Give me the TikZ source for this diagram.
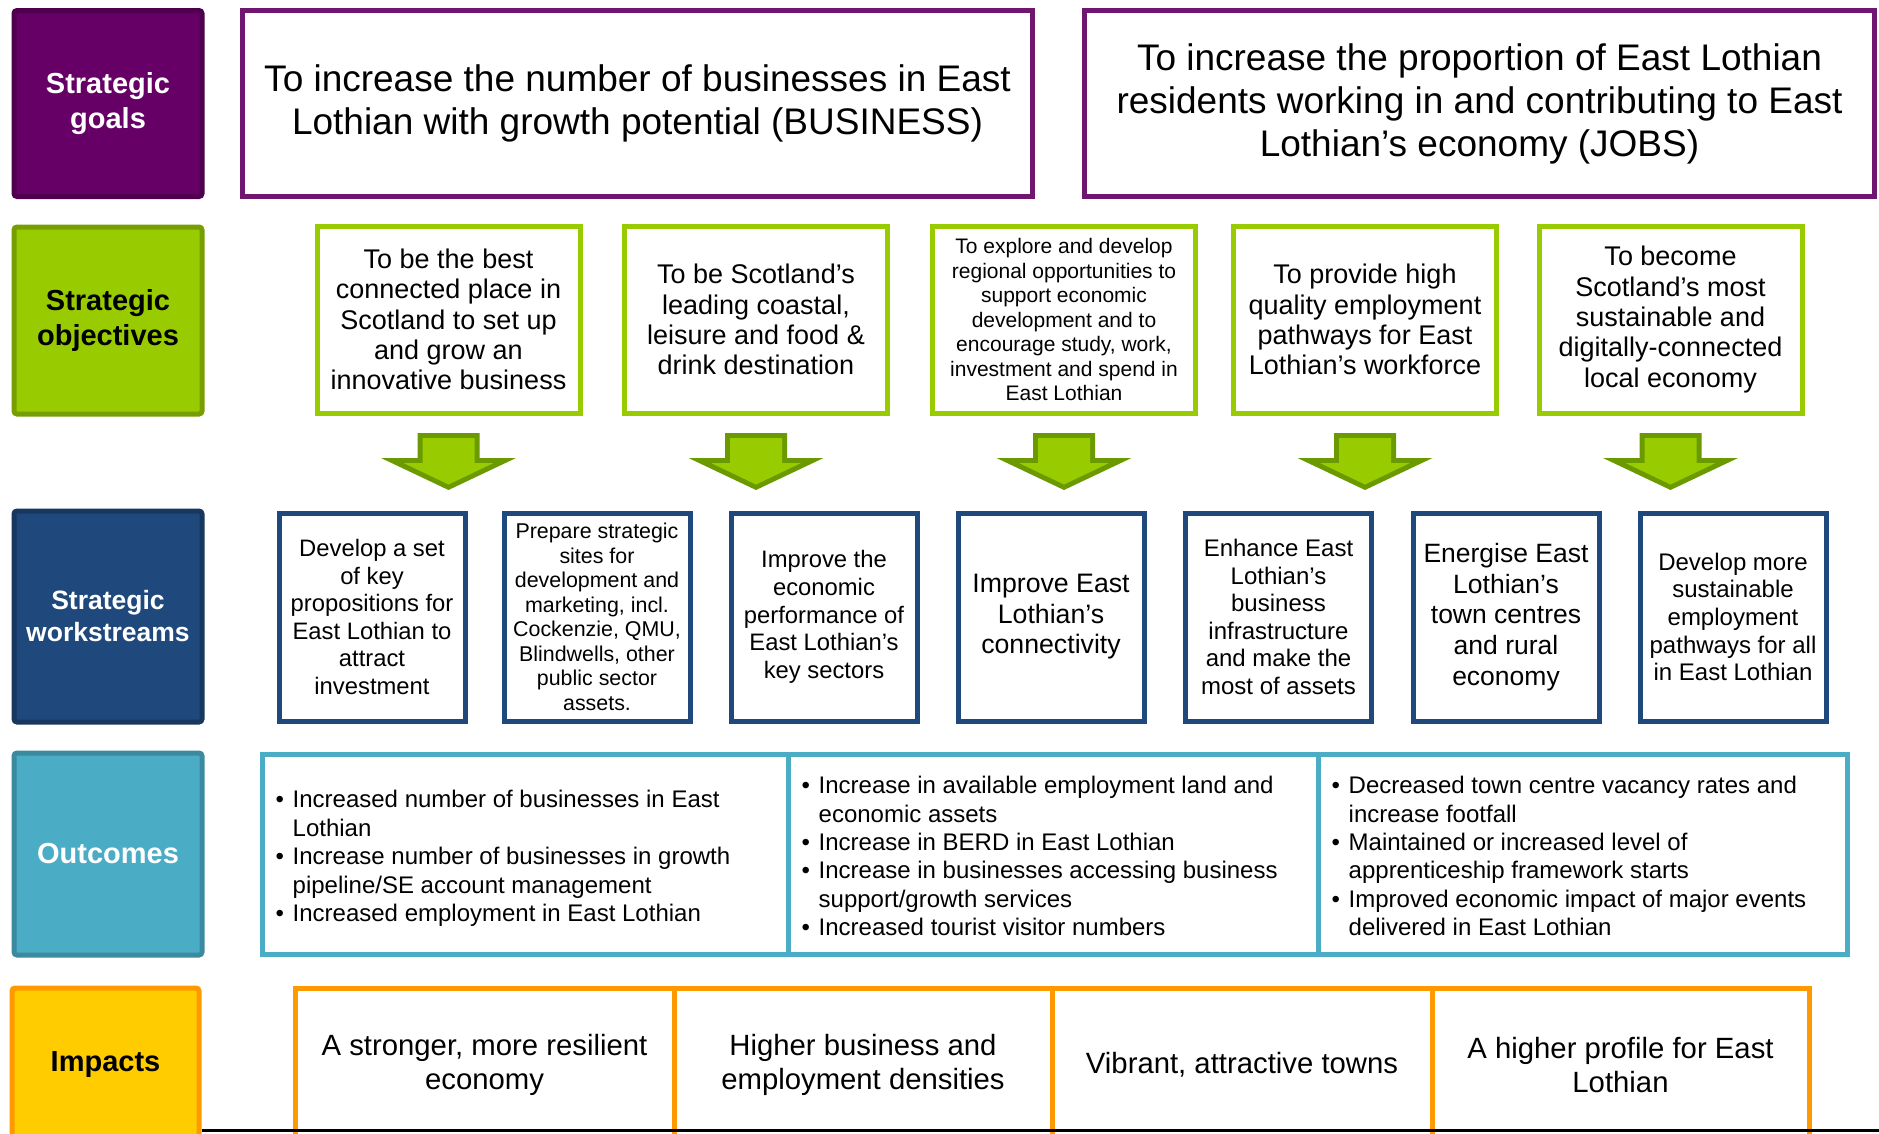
\documentclass[tikz,border=0pt]{standalone}
\usepackage{fontspec}
\setmainfont{Liberation Sans}

\definecolor{goalpurple}{HTML}{660066}
\definecolor{goaldark}{HTML}{4E004E}
\definecolor{goalline}{HTML}{701570}
\definecolor{objgreen}{HTML}{99CC00}
\definecolor{objdark}{HTML}{779E00}
\definecolor{arrowdark}{HTML}{6B9900}
\definecolor{wsblue}{HTML}{1F497D}
\definecolor{wsdark}{HTML}{17375E}
\definecolor{outteal}{HTML}{4BACC6}
\definecolor{outdark}{HTML}{3B8A9F}
\definecolor{impyellow}{HTML}{FFCC00}
\definecolor{imporange}{HTML}{FF9900}

\begin{document}
\begin{tikzpicture}[x=1pt,y=-1pt,
    lbl/.style={rectangle, rounded corners=3, line width=5, minimum width=188, align=center, inner sep=0, font=\fontsize{29}{35}\selectfont\bfseries},
    box/.style={rectangle, line width=5, fill=white, align=center, inner sep=0},
    goalbox/.style={box, draw=goalline, minimum width=790, minimum height=186, font=\fontsize{37}{43}\selectfont},
    objbox/.style={box, draw=objgreen, minimum width=263, minimum height=187, font=\fontsize{27}{30.3}\selectfont},
    wsbox/.style={box, draw=wsblue, minimum width=186, minimum height=208},
    outbox/.style={box, draw=outteal, minimum height=200},
    outtext/.style={anchor=west, inner sep=0, align=left, font=\fontsize{24}{28.4}\selectfont},
    impbox/.style={box, draw=imporange, minimum height=154, font=\fontsize{29.3}{33.5}\selectfont},
    downarrow/.pic={
        \fill[arrowdark] (-31,17.5) -- (31,17.5) -- (31,42.5) -- (67.5,42.5) -- (0,74.5) -- (-67.5,42.5) -- (-31,42.5) -- cycle;
        \fill[objgreen] (-26,22.5) -- (26,22.5) -- (26,47.5) -- (45,47.5) -- (0,69) -- (-45,47.5) -- (-26,47.5) -- cycle;
    }
]
\useasboundingbox (0,0) rectangle (1879,1133);

% row labels
\node[lbl, draw=goaldark, fill=goalpurple, text=white, minimum height=186] (goalslbl) at (108,103.5) {Strategic\\goals};
\node[lbl, draw=objdark, fill=objgreen, minimum height=187] (objlbl) at (108,320.5) {Strategic\\objectives};
\node[lbl, draw=wsdark, fill=wsblue, text=white, minimum height=211, font=\fontsize{26.5}{32}\selectfont\bfseries] (wslbl) at (108,616.5) {Strategic\\workstreams};
\node[lbl, draw=outdark, fill=outteal, text=white, minimum height=202] (outlbl) at (108,854) {Outcomes};

% goals
\node[goalbox] (business) at (637.5,103.5) {To increase the number of businesses in East\\Lothian with growth potential (BUSINESS)};
\node[goalbox] (jobs) at (1479.5,103.5) {To increase the proportion of East Lothian\\residents working in and contributing to East\\Lothian’s economy (JOBS)};

% objectives
\node[objbox] (obj1) at (448.5,319.5) {To be the best\\connected place in\\Scotland to set up\\and grow an\\innovative business};
\node[objbox] (obj2) at (756,319.5) {To be Scotland’s\\leading coastal,\\leisure and food \&\\drink destination};
\node[objbox, font=\fontsize{21}{24.5}\selectfont] (obj3) at (1064,319.5) {To explore and develop\\regional opportunities to\\support economic\\development and to\\encourage study, work,\\investment and spend in\\East Lothian};
\node[objbox] (obj4) at (1365,319.5) {To provide high\\quality employment\\pathways for East\\Lothian’s workforce};
\node[objbox] (obj5) at (1670.5,319.5) {To become\\Scotland’s most\\sustainable and\\digitally-connected\\local economy};

\foreach \i in {1,...,5}
    \pic at (obj\i.south) {downarrow};

% workstreams
\node[wsbox, font=\fontsize{23.8}{27.6}\selectfont] (ws1) at (372,617) {Develop a set\\of key\\propositions for\\East Lothian to\\attract\\investment};
\node[wsbox, font=\fontsize{21.4}{24.5}\selectfont] (ws2) at (597,617) {Prepare strategic\\sites for\\development and\\marketing, incl.\\Cockenzie, QMU,\\Blindwells, other\\public sector\\assets.};
\node[wsbox, font=\fontsize{23.8}{27.6}\selectfont] (ws3) at (824,617) {Improve the\\economic\\performance of\\East Lothian’s\\key sectors};
\node[wsbox, font=\fontsize{26.7}{30.5}\selectfont] (ws4) at (1051,617) {Improve East\\Lothian’s\\connectivity};
\node[wsbox, font=\fontsize{24}{27.5}\selectfont] (ws5) at (1278.5,617) {Enhance East\\Lothian’s\\business\\infrastructure\\and make the\\most of assets};
\node[wsbox, font=\fontsize{26.5}{30.8}\selectfont] (ws6) at (1506,617) {Energise East\\Lothian’s\\town centres\\and rural\\economy};
\node[wsbox, font=\fontsize{24}{27.6}\selectfont] (ws7) at (1733,617) {Develop more\\sustainable\\employment\\pathways for all\\in East Lothian};

% outcomes
\node[outbox, minimum width=526] (oc1) at (525,854) {};
\node[outbox, minimum width=530] (oc2) at (1053,854) {};
\node[outbox, minimum width=529] (oc3) at (1582.5,854) {};
\node[outtext] (oc1text) at ([xshift=16,yshift=-5]oc1.west) {\begin{tabular}{@{}l@{\hspace{8.6pt}}l@{}}
\textbullet & Increased number of businesses in East\\
 & Lothian\\
\textbullet & Increase number of businesses in growth\\
 & pipeline/SE account management\\
\textbullet & Increased employment in East Lothian
\end{tabular}};
\node[outtext] (oc2text) at ([xshift=16,yshift=-5]oc2.west) {\begin{tabular}{@{}l@{\hspace{8.6pt}}l@{}}
\textbullet & Increase in available employment land and\\
 & economic assets\\
\textbullet & Increase in BERD in East Lothian\\
\textbullet & Increase in businesses accessing business\\
 & support/growth services\\
\textbullet & Increased tourist visitor numbers
\end{tabular}};
\node[outtext] (oc3text) at ([xshift=16,yshift=-5]oc3.west) {\begin{tabular}{@{}l@{\hspace{8.6pt}}l@{}}
\textbullet & Decreased town centre vacancy rates and\\
 & increase footfall\\
\textbullet & Maintained or increased level of\\
 & apprenticeship framework starts\\
\textbullet & Improved economic impact of major events\\
 & delivered in East Lothian
\end{tabular}};

% impacts
\node[impbox, minimum width=379] (imp1) at (484.5,1065) {A stronger, more resilient\\economy};
\node[impbox, minimum width=378] (imp2) at (863,1065) {Higher business and\\employment densities};
\node[impbox, minimum width=380] (imp3) at (1242,1065) {Vibrant, attractive towns};
\node[impbox, minimum width=377] (imp4) at (1620.5,1065) {A higher profile for East\\Lothian};

\coordinate (ruleend) at (1879,1130);
\draw[line width=3] (imp1.west |- ruleend) -- (ruleend);
\node[lbl, draw=imporange, fill=impyellow, minimum width=187, minimum height=154] (implbl) at (105.5,1065) {Impacts};
\draw[line width=3] (implbl.east |- ruleend) -- (imp1.west |- ruleend);
\end{tikzpicture}
\end{document}
